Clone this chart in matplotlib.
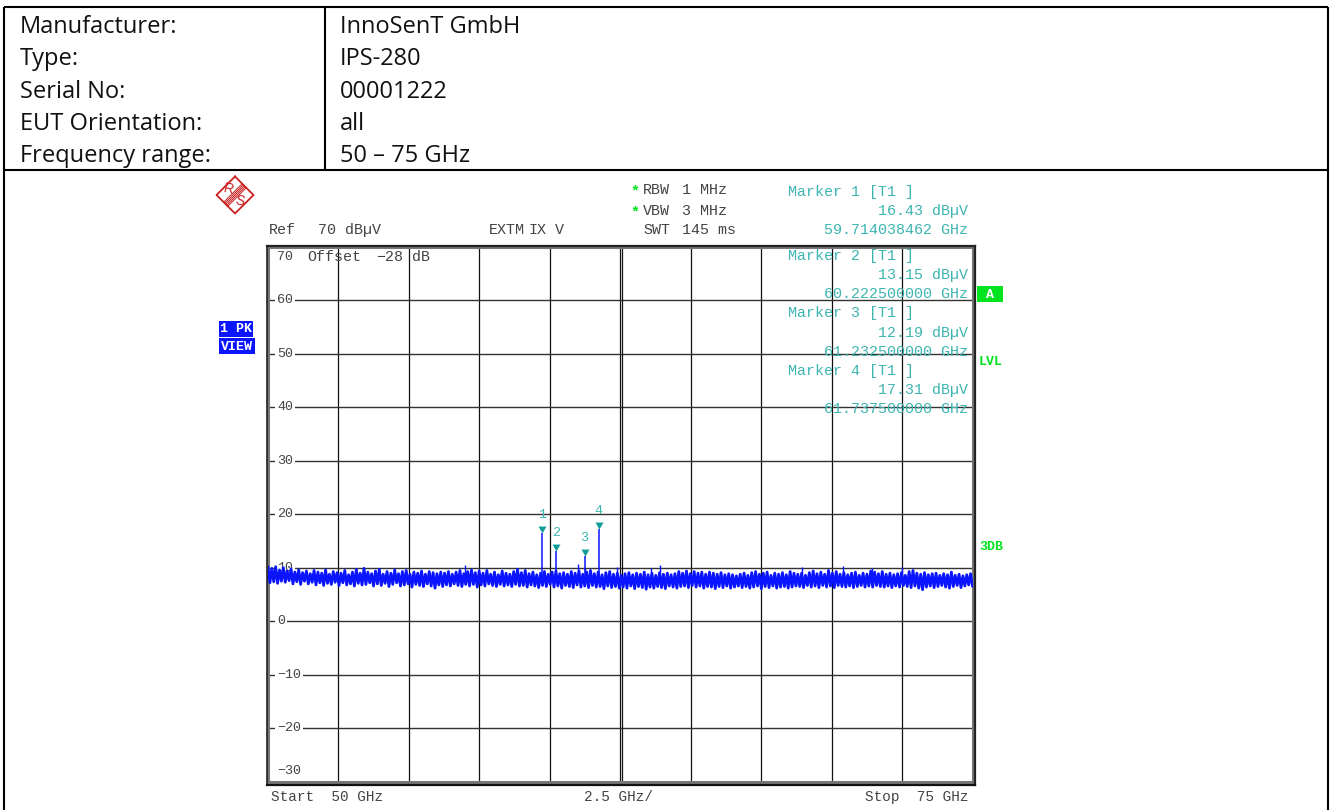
import matplotlib
matplotlib.use('Agg')
import matplotlib.pyplot as plt
import numpy as np

# header table
row_names = ['Manufacturer:', 'Type:', 'Serial No:', 'EUT Orientation:', 'Frequency range:']
row_values = ['InnoSenT GmbH', 'IPS-280', '00001222', 'all', '50 \u2013 75 GHz']

# analyzer scale
start_ghz = 50
stop_ghz = 75
freq_ticks = [50, 52.5, 55, 57.5, 60, 62.5, 65, 67.5, 70, 72.5, 75]
level_ticks = [70, 60, 50, 40, 30, 20, 10, 0, -10, -20, -30]

# markers
marker_freq = [59.714038462, 60.2225, 61.2325, 61.7375]
marker_level = [16.43, 13.15, 12.19, 17.31]
marker_freq_text = ['59.714038462', '60.222500000', '61.232500000', '61.737500000']

# small spikes above the noise
spike_freq = [57.0, 61.0, 61.25, 62.4, 63.6, 63.9, 68.95, 70.4, 71.45, 72.5]
spike_level = [10.6, 10.7, 10.0, 10.2, 10.0, 10.5, 10.1, 10.4, 10.0, 10.1]

# peak trace in four stretches
trace_a = [10.1, 7.2, 9.9, 7.4, 10.2, 7.1, 9.6, 7.5, 10.0, 7.3, 9.4, 7.6, 9.8, 7.0, 9.2, 7.4,
           9.6, 6.9, 9.1, 7.5, 9.4, 7.0, 8.9, 7.3, 9.5, 6.8, 9.2, 7.2, 9.0, 6.7, 9.6, 7.1,
           8.8, 6.9, 9.3, 7.3, 9.1, 6.7, 9.0, 7.2, 9.5, 6.8, 8.7, 7.0, 9.2, 6.6, 9.7, 7.1,
           9.0, 6.8, 9.9, 6.9, 9.2, 7.2, 8.9, 6.6, 9.4, 7.0, 9.7, 6.7, 8.8, 7.1, 9.3, 6.5,
           9.0, 6.9, 9.6, 7.2, 8.9, 6.6, 9.3, 6.8, 9.5, 7.0, 8.8, 6.4, 9.2, 6.9, 9.0, 6.7,
           9.4, 6.5, 8.8, 7.0, 9.3, 6.6, 9.1, 6.2, 8.9, 6.8, 9.2, 6.5]
trace_b = [9.0, 6.8, 9.3, 6.6, 8.8, 7.0, 9.2, 6.7, 9.5, 6.5, 8.9, 6.9, 9.3, 6.6, 9.6, 6.9,
           9.1, 6.4, 9.4, 6.8, 9.0, 6.6, 9.5, 7.0, 8.8, 6.7, 9.2, 6.5, 8.7, 6.9, 9.4, 6.6,
           9.0, 6.8, 8.8, 6.5, 9.3, 6.9, 9.7, 6.6, 9.1, 6.7, 9.5, 6.4, 8.9, 6.8, 9.2, 6.6,
           8.7, 6.3, 9.0, 6.7, 9.3, 6.5, 8.8, 6.9, 9.2, 6.4, 9.4, 6.6, 8.9, 6.2, 9.1, 6.7,
           8.8, 6.5, 9.3, 6.3, 9.0, 6.8, 9.4, 6.4, 8.8, 6.6, 9.2, 6.3, 9.5, 6.7, 8.9, 6.4,
           9.2, 6.5, 8.7, 6.1, 9.1, 6.6, 9.3, 6.3, 8.8, 6.5, 9.0, 6.2]
trace_c = [8.6, 6.4, 8.9, 6.2, 9.1, 6.6, 8.7, 6.1, 9.0, 6.5, 8.8, 6.3, 9.2, 6.0, 8.7, 6.4,
           9.0, 6.2, 8.6, 6.5, 9.1, 6.3, 8.8, 6.1, 9.0, 6.6, 8.7, 6.4, 8.9, 6.2, 9.3, 6.5,
           9.0, 6.6, 9.4, 6.3, 8.9, 6.7, 9.3, 6.4, 9.0, 6.6, 9.2, 6.2, 8.8, 6.5, 9.2, 6.4,
           9.0, 6.1, 8.8, 6.5, 9.1, 6.3, 8.7, 6.6, 8.9, 6.2, 8.7, 6.4, 8.5, 6.6, 8.8, 6.3,
           9.0, 6.5, 8.6, 6.2, 9.1, 6.4, 9.3, 6.6, 8.8, 6.1, 9.0, 6.5, 9.2, 6.3, 8.6, 6.6,
           9.0, 6.2, 8.8, 6.4, 9.1, 6.5, 8.7, 6.2, 9.3, 6.4, 9.0, 6.6]
trace_d = [8.8, 6.5, 9.0, 6.3, 8.6, 6.7, 9.1, 6.4, 9.4, 6.6, 8.9, 6.3, 9.2, 6.7, 8.8, 6.4,
           9.5, 6.6, 9.0, 6.3, 9.3, 6.7, 8.8, 6.5, 9.1, 6.4, 8.7, 6.6, 9.0, 6.3, 9.2, 6.5,
           8.6, 6.7, 9.0, 6.4, 8.8, 6.6, 9.4, 6.4, 9.2, 6.7, 8.9, 6.5, 9.3, 6.4, 8.8, 6.6,
           9.0, 6.3, 8.7, 6.6, 8.9, 6.4, 9.1, 6.7, 8.6, 6.5, 9.3, 6.3, 9.5, 6.6, 9.0, 6.2,
           8.8, 5.9, 9.1, 6.4, 8.7, 6.6, 8.9, 6.3, 9.0, 6.5, 8.6, 6.7, 8.9, 6.4, 8.7, 6.2,
           9.2, 6.5, 8.6, 6.7, 8.8, 6.3, 8.5, 6.6, 8.7, 6.8, 8.9, 6.6]
trace = trace_a + trace_b + trace_c + trace_d
trace_freq = np.linspace(start_ghz, stop_ghz, len(trace))

W, H = 1333, 810
TEAL = '#3db5b1'
GREEN = '#00e31e'
BLUE = '#0a14ff'
GREY = '#444444'
MONO = 'Liberation Mono'

fig = plt.figure(figsize=(W / 100, H / 100), dpi=100, facecolor='white')

# chart axes placed in pixel positions of the screen shot
left, right, top, bottom = 268, 972.5, 246.5, 782
ax = fig.add_axes([left / W, 1 - bottom / H, (right - left) / W, (bottom - top) / H])
ax.set_xlim(start_ghz, stop_ghz)
ax.set_ylim(-30, 70)
ax.set_xticks(freq_ticks)
ax.set_yticks(level_ticks)
ax.tick_params(length=0, labelbottom=False, labelleft=False)
ax.grid(True, axis='x', color='#111111', lw=0.9, zorder=1)
ax.grid(True, axis='y', color='#333333', lw=1.0, zorder=1)
ax.set_axisbelow(True)
ax.axvline(62.55, color='#111111', lw=0.9, zorder=1)  # centre line is doubled
for s in ax.spines.values():
    s.set_color('#777777')
    s.set_linewidth(2.2)

# level labels sit inside the frame and blank out the grid line
for v in level_ticks:
    dy = 0
    if v == 70:
        dy = -11
    if v == -30:
        dy = 11
    ax.annotate(str(v).replace('-', '\u2212'), xy=(0, v), xycoords=ax.get_yaxis_transform(),
                xytext=(9, dy), textcoords='offset pixels', ha='left', va='center',
                family=MONO, fontsize=9.6, color=GREY, zorder=2,
                bbox=dict(fc='white', ec='none', pad=1.5))

# trace, spikes and markers
ax.plot(trace_freq, trace, color=BLUE, lw=2.0, zorder=4)
ax.vlines(spike_freq, 8, spike_level, color=BLUE, lw=1.0, zorder=4)
ax.vlines(marker_freq, 8, marker_level, color=BLUE, lw=1.1, zorder=4)
tri = [(0, 0), (-4, 7), (4, 7)]
ax.plot(marker_freq, marker_level, ls='none', marker=tri, ms=10, color='#0f9d98', mew=0, zorder=5)
for i, (f, lv) in enumerate(zip(marker_freq, marker_level)):
    ax.annotate(str(i + 1), xy=(f, lv), xytext=(0, 18), textcoords='offset pixels',
                ha='center', va='center', family=MONO, fontsize=9.6, color=TEAL, zorder=5)

# everything round the chart, in screen pixels
bg = fig.add_axes([0, 0, 1, 1], facecolor='none')
bg.set_xlim(0, W)
bg.set_ylim(H, 0)
bg.axis('off')

# frame of the plot: dark outline over the grey spines
bg.plot([267, 267], [245.5, 784.5], color='#222222', lw=1.2)
bg.plot([267, 975], [246, 246], color='#222222', lw=1.6)
bg.plot([975, 975], [245.5, 784.5], color='#222222', lw=1.6)
bg.plot([267, 975], [784.5, 784.5], color='#111111', lw=1.6)

# table lines
for xs, ys in [((4, 1328), (7, 7)), ((4, 4), (7, 810)), ((1328, 1328), (7, 810)),
               ((4, 1328), (170, 170)), ((325, 325), (7, 170))]:
    bg.plot(xs, ys, color='black', lw=1.5, solid_capstyle='butt')

row_y = [33, 65, 98, 130, 162]
for name, val, y in zip(row_names, row_values, row_y):
    bg.text(20, y, name, family='Open Sans', fontsize=17, color='#111111', va='baseline')
    bg.text(340, y, val, family='Open Sans', fontsize=17, color='#111111', va='baseline')


def mono(x, y, s, color=GREY, ha='left', size=10.8, **kw):
    bg.text(x, y, s, family=MONO, fontsize=size, color=color, ha=ha, va='center', **kw)


mono(269, 230, 'Ref')
mono(318, 230, '70 dB\u00b5V')
mono(307, 257, 'Offset')
mono(376, 257, '\u221228')
mono(412, 257, 'dB')
mono(489, 230, 'EXTM')
mono(529, 230, 'IX')
mono(555, 230, 'V')
mono(630, 191, '*', color=GREEN, weight='bold')
mono(630, 212, '*', color=GREEN, weight='bold')
mono(643, 190, 'RBW')
mono(682, 190, '1 MHz')
mono(643, 211, 'VBW')
mono(682, 211, '3 MHz')
mono(643, 230, 'SWT')
mono(682, 230, '145 ms')
mono(271, 797, 'Start  50 GHz', size=10.4)
mono(584, 797, '2.5 GHz/', size=10.4)
mono(865, 797, 'Stop  75 GHz', size=10.4)

block_y = [192, 256, 313, 371]
block_step = [19, 19, 19.5, 19]
for i in range(4):
    y, dy = block_y[i], block_step[i]
    mono(788, y, 'Marker %d [T1 ]' % (i + 1), color=TEAL)
    mono(968, y + dy, '%.2f dB\u00b5V' % marker_level[i], color=TEAL, ha='right')
    mono(968, y + 2 * dy, marker_freq_text[i] + ' GHz', color=TEAL, ha='right')

# status badges
bg.fill([219, 253, 253, 219], [321, 321, 337, 337], color='#0a14ff', lw=0)
bg.fill([219, 255, 255, 219], [338, 338, 354, 354], color='#0a14ff', lw=0)
bg.text(236, 329, '1 PK', family=MONO, fontsize=9.5, weight='bold', color='white', ha='center', va='center')
bg.text(237, 346.5, 'VIEW', family=MONO, fontsize=9.5, weight='bold', color='white', ha='center', va='center')
bg.fill([977, 1003, 1003, 977], [286, 286, 302, 302], color=GREEN, lw=0)
bg.text(990, 294.5, 'A', family=MONO, fontsize=9.5, weight='bold', color='white', ha='center', va='center')
bg.text(991, 362, 'LVL', family=MONO, fontsize=9.5, weight='bold', color=GREEN, ha='center', va='center')
bg.text(991, 547.5, '3DB', family=MONO, fontsize=9.5, weight='bold', color=GREEN, ha='center', va='center')

# R&S logo
LOGO = '#cc1f1f'
cx, cy, r = 235, 195, 18.5
bg.plot([cx, cx + r, cx, cx - r, cx], [cy - r, cy, cy + r, cy, cy - r], color=LOGO, lw=1.3)
for off in [-2, -1, 0, 1, 2]:
    bg.plot([cx - 9 + off, cx + 9 + off], [cy + 9 + off, cy - 9 + off], color=LOGO, lw=0.7)
bg.text(229, 189, 'R', family='Liberation Sans', fontsize=10, color=LOGO, ha='center', va='center', rotation=-12)
bg.text(240, 201, 'S', family='Liberation Sans', fontsize=10, color=LOGO, ha='center', va='center', rotation=-12)

fig.savefig('out.png', dpi=100)
